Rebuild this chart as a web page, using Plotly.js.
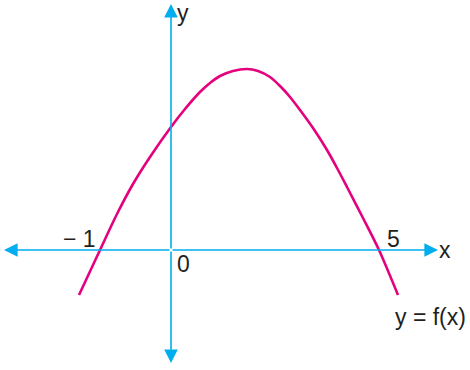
<!DOCTYPE html>
<html>
<head>
<meta charset="utf-8">
<script src="https://cdn.plot.ly/plotly-3.0.1.min.js"></script>
<style>html,body{margin:0;padding:0;background:#fff;}#chart{width:470px;height:370px;}</style>
</head>
<body>
<div id="chart"></div>
<script>
// Curve y = f(x) (schematic drawing units)
const curveX = [-9.2, -7.1, -5.4, -3.8, -2.1, 0, 1.4, 2.9, 3.9, 4.9, 6.2, 7.6, 8.7, 9.9, 11.0, 11.9, 12.9, 14.2, 15.6, 16.6, 17.6, 19.2, 20.8, 22.7];
const curveY = [-4.5, 0, 3.6, 6.6, 9.3, 12.3, 14.1, 15.8, 16.7, 17.4, 17.9, 18.1, 17.9, 17.3, 16.3, 15.3, 14.0, 12.2, 10.0, 8.2, 6.3, 3.2, 0, -4.5];

// Axis extents (drawing units)
const xAxisEnds = [-16.7, 26.7];
const yAxisEnds = [-11.3, 24.6];

// Labels: text and position
const labelText = ["− 1", "0", "5", "x", "y", "y = f(x)"];
const labelX = [-9.2, 1.2, 22.2, 27.4, 1.2, 25.9];
const labelY = [1.15, -1.4, 1.15, 0.0, 25.0, -6.7];
const labelYAnchor = ["middle", "middle", "middle", "middle", "top", "middle"];
const labelYShift = [0, 0, 0, 0, 2, 0];

const AXIS = "#00aeef";
const CURVE = "#e5007e";
const TEXT = "#231f20";

const traces = [{
  x: curveX, y: curveY, type: "scatter", mode: "lines",
  line: {color: CURVE, width: 2.6, shape: "spline", smoothing: 0.8},
  hoverinfo: "skip"
}];

const annotations = [];
function arrow(x, y, ax, ay) {
  annotations.push({x: x, y: y, ax: ax, ay: ay, xref: "x", yref: "y", axref: "x", ayref: "y",
    text: "", showarrow: true, arrowhead: 2, arrowsize: 1.7, arrowwidth: 1.6, arrowcolor: AXIS, standoff: 0, startstandoff: 0});
}
arrow(xAxisEnds[0], 0, 0, 0);
arrow(xAxisEnds[1], 0, 0, 0);
arrow(0, yAxisEnds[1], 0, 0);
arrow(0, yAxisEnds[0], 0, 0);

for (let i = 0; i < labelText.length; i++) {
  annotations.push({x: labelX[i], y: labelY[i], xref: "x", yref: "y", text: labelText[i], showarrow: false,
    xanchor: "center", yanchor: labelYAnchor[i], yshift: labelYShift[i],
    font: {family: "Liberation Sans, Arial, sans-serif", size: 23, color: TEXT}});
}

const layout = {
  width: 470, height: 370,
  margin: {l: 0, r: 0, t: 0, b: 0},
  paper_bgcolor: "#fff", plot_bgcolor: "#fff",
  showlegend: false,
  xaxis: {range: [-17.1, 29.9], visible: false, showgrid: false, zeroline: false, fixedrange: true},
  yaxis: {range: [-12, 25], visible: false, showgrid: false, zeroline: false, fixedrange: true},
  annotations: annotations
};

Plotly.newPlot("chart", traces, layout, {displayModeBar: false, staticPlot: true});
</script>
</body>
</html>
